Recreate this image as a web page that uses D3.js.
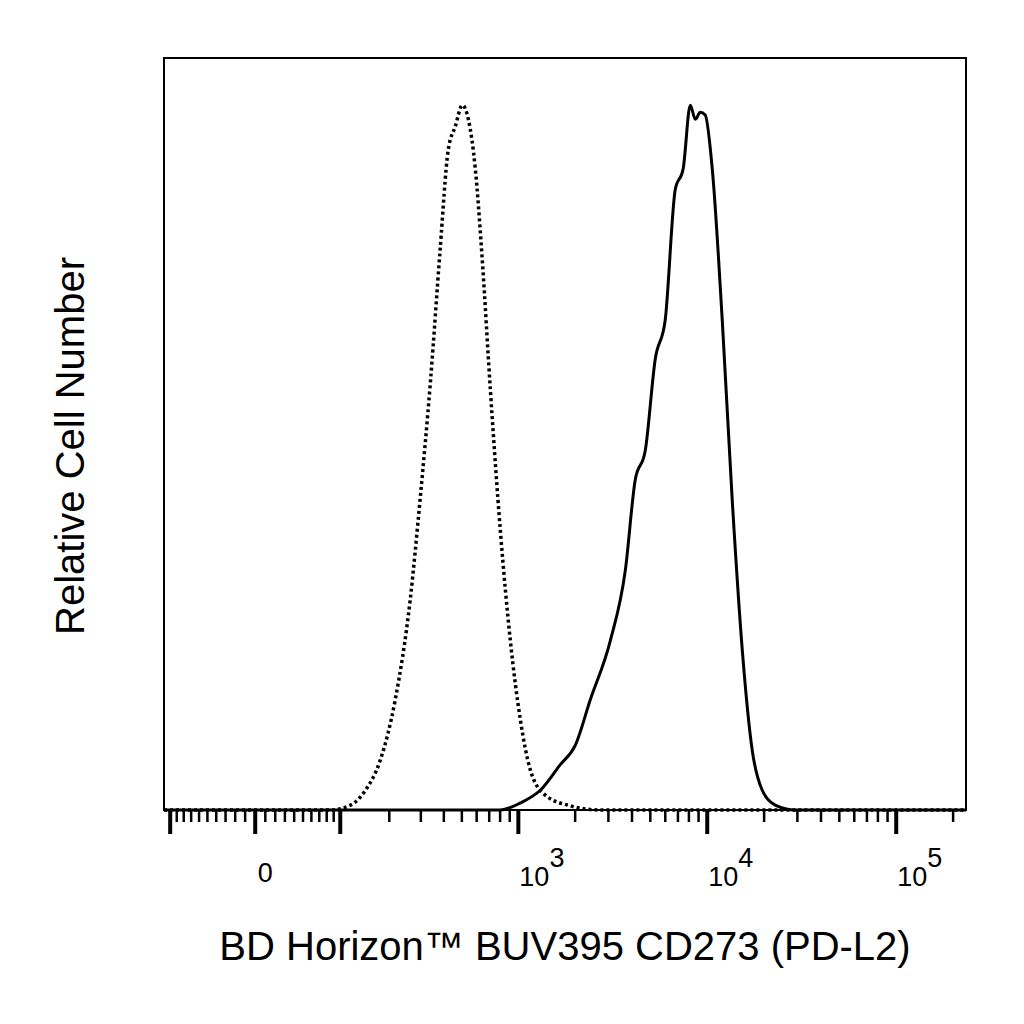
<!DOCTYPE html>
<html>
<head>
<meta charset="UTF-8">
<script src="https://cdn.jsdelivr.net/npm/d3@7"></script>
<style>body{margin:0;background:#fff}</style>
</head>
<body>
<div id="chart"></div>
<script>
// isotype control (dotted) and stained (solid): intensity, relative count
var isoX = [-110, 85, 117, 145, 177, 216, 262, 297, 339, 382, 422, 461, 503, 542, 590, 643, 710, 802, 907, 1025, 1157, 1389, 1884, 2712, 234000];
var isoY = [0, 0, 0.7, 2.8, 7, 15.6, 29.8, 44, 61, 79.5, 93.6, 97, 100, 98, 91, 78, 59.6, 39.7, 24, 12.8, 5.7, 2.1, 0.6, 0, 0];
var pdX = [-110, 802, 1025, 1307, 1665, 2005, 2403, 3069, 3686, 4157, 4701, 5310, 5993, 6772, 7462, 8136, 8648, 9184, 9760, 10630, 12010, 13560, 15330, 17300, 19550, 22900, 29230, 234000];
var pdY = [0, 0, 1, 2.8, 6.4, 9.2, 15.6, 24, 34, 46.8, 51, 64, 69.5, 88, 91, 100, 98, 99, 98.6, 91, 69.5, 44, 22.7, 8.5, 2.8, 0.7, 0, 0];
var majorTicks = [-100, 0, 100, 1000, 10000, 100000];
var decadeLabels = [{v: 1000, e: "3"}, {v: 10000, e: "4"}, {v: 100000, e: "5"}];

var W = 1024, H = 1024;
var L = 164, R = 966, T = 58, B = 810;
var font = "Liberation Sans, Arial, sans-serif";

// biexponential-like display transform
var cw = 40.6;
function tr(v){ return Math.asinh(v / (2 * cw)) / Math.LN10; }

var xLin = d3.scaleLinear().domain([tr(-110), tr(234000)]).range([L, R]);
function x(v){ return xLin(tr(v)); }
var y = d3.scaleLinear().domain([0, 106.7]).range([B, T]);

var svg = d3.select("#chart").append("svg").attr("width", W).attr("height", H);

var line = d3.line().x(function(d){ return x(d[0]); }).y(function(d){ return y(d[1]); })
	.curve(d3.curveMonotoneX);

svg.append("path").datum(d3.zip(isoX, isoY)).attr("d", line)
	.attr("fill", "none").attr("stroke", "#000").attr("stroke-width", 3.5)
	.attr("stroke-dasharray", "3,3");
svg.append("path").datum(d3.zip(pdX, pdY)).attr("d", line)
	.attr("fill", "none").attr("stroke", "#000").attr("stroke-width", 3);

svg.append("rect").attr("x", L).attr("y", T).attr("width", R - L).attr("height", B - T)
	.attr("fill", "none").attr("stroke", "#000").attr("stroke-width", 2);

// minor ticks
var minor = [];
for (var k = 10; k < 100; k += 10) { minor.push(k); minor.push(-k); }
[100, 1000, 10000, 100000].forEach(function(dec){
	for (var m = 2; m <= 9; m++) if (dec * m < 234000) minor.push(dec * m);
});
svg.selectAll(".minor").data(minor).enter().append("line")
	.attr("x1", x).attr("x2", x).attr("y1", B).attr("y2", B + 12)
	.attr("stroke", "#000").attr("stroke-width", 2.5);
svg.selectAll(".major").data(majorTicks).enter().append("line")
	.attr("x1", x).attr("x2", x).attr("y1", B).attr("y2", B + 24)
	.attr("stroke", "#000").attr("stroke-width", 4);

svg.append("text").attr("x", x(0) + 10).attr("y", 882).attr("text-anchor", "middle")
	.attr("font-family", font).attr("font-size", 27).text("0");
var lab = svg.selectAll(".dl").data(decadeLabels).enter().append("text")
	.attr("x", function(d){ return x(d.v) + 1; }).attr("y", 886)
	.attr("font-family", font).attr("font-size", 27);
lab.append("tspan").text("10");
lab.append("tspan").attr("dy", -19).text(function(d){ return d.e; });

svg.append("text").attr("x", 565).attr("y", 960).attr("text-anchor", "middle")
	.attr("font-family", font).attr("font-size", 40)
	.text("BD Horizon\u2122 BUV395 CD273 (PD-L2)");
svg.append("text").attr("transform", "translate(84,446) rotate(-90)").attr("text-anchor", "middle")
	.attr("font-family", font).attr("font-size", 40)
	.text("Relative Cell Number");
</script>
</body>
</html>
